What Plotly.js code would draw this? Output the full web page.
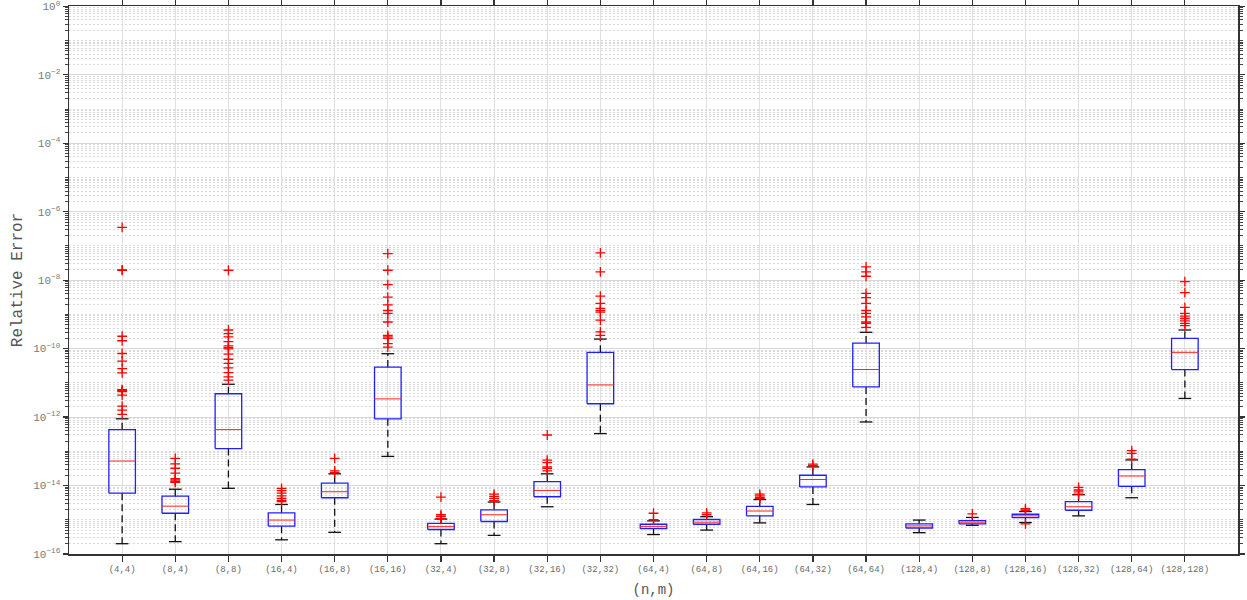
<!DOCTYPE html>
<html>
<head>
<meta charset="utf-8">
<script src="https://cdn.plot.ly/plotly-3.0.1.min.js"></script>
<style>
  html, body { margin: 0; padding: 0; background: #fff; }
  #chart { width: 1247px; height: 600px; }
</style>
</head>
<body>
<div id="chart"></div>
<script>
// Categories (n,m)
const categories = ['(4,4)', '(8,4)', '(8,8)', '(16,4)', '(16,8)', '(16,16)', '(32,4)', '(32,8)',
  '(32,16)', '(32,32)', '(64,4)', '(64,8)', '(64,16)', '(64,32)', '(64,64)', '(128,4)', '(128,8)',
  '(128,16)', '(128,32)', '(128,64)', '(128,128)'];

// Box statistics (relative error)
const upperWhisker = [8.9e-13, 7.8e-15, 9.1e-12, 2.8e-15, 2.2e-14, 7.1e-11, 1.05e-15, 3.3e-15,
  2.2e-14, 1.9e-10, 9.3e-16, 1.23e-15, 3.9e-15, 3.5e-14, 3.0e-10, 9.8e-16, 1.17e-15,
  1.74e-15, 5.4e-15, 5.6e-14, 3.5e-10];
const q3 = [4.3e-13, 4.9e-15, 4.8e-12, 1.6e-15, 1.17e-14, 2.9e-11, 7.8e-16, 1.95e-15,
  1.3e-14, 7.8e-11, 7.4e-16, 1.02e-15, 2.45e-15, 2.0e-14, 1.45e-10, 7.6e-16, 9.5e-16,
  1.45e-15, 3.4e-15, 2.9e-14, 2.0e-10];
const medians = [5.2e-14, 2.5e-15, 4.3e-13, 9.8e-16, 6.6e-15, 3.4e-12, 6.3e-16, 1.4e-15,
  7.2e-15, 8.7e-12, 6.3e-16, 8.5e-16, 1.8e-15, 1.5e-14, 2.45e-11, 6.6e-16, 8.5e-16,
  1.3e-15, 2.4e-15, 1.9e-14, 7.8e-11];
const q1 = [6.0e-15, 1.55e-15, 1.2e-13, 6.5e-16, 4.4e-15, 8.9e-13, 5.2e-16, 8.9e-16,
  4.7e-15, 2.45e-12, 5.5e-16, 7.4e-16, 1.3e-15, 9.1e-15, 7.6e-12, 5.75e-16, 7.6e-16,
  1.15e-15, 1.9e-15, 9.5e-15, 2.45e-11];
const lowerWhisker = [2.0e-16, 2.3e-16, 8.3e-15, 2.6e-16, 4.3e-16, 7.1e-14, 2.0e-16, 3.5e-16,
  2.4e-15, 3.3e-13, 3.7e-16, 5.0e-16, 8.1e-16, 2.8e-15, 7.2e-13, 4.2e-16, 6.9e-16,
  8.3e-16, 1.3e-15, 4.4e-15, 3.5e-12];

// Outliers per category
const outliers = [
  [3.5e-7, 2.0e-8, 1.95e-8, 2.3e-10, 1.7e-10, 7.2e-11, 4.3e-11, 2.6e-11, 1.95e-11, 6.3e-12, 6.0e-12, 5.6e-12, 4.4e-12, 2.1e-12, 1.6e-12, 1.2e-12],
  [6.2e-14, 4.3e-14, 3.2e-14, 2.3e-14, 1.6e-14, 1.45e-14, 1.3e-14, 1.25e-14],
  [1.95e-8, 3.5e-10, 2.75e-10, 2.2e-10, 1.6e-10, 1.2e-10, 1.07e-10, 9.8e-11, 6.9e-11, 4.9e-11, 3.7e-11, 2.75e-11, 2.0e-11, 1.5e-11, 1.2e-11],
  [8.3e-15, 7.1e-15, 6.0e-15, 5.0e-15, 4.2e-15, 3.7e-15, 3.4e-15],
  [6.2e-14, 2.7e-14, 2.4e-14],
  [6.0e-8, 1.95e-8, 7.4e-9, 3.2e-9, 1.9e-9, 1.3e-9, 1.07e-9, 6.0e-10, 2.45e-10, 2.2e-10, 2.0e-10, 1.4e-10, 1.1e-10],
  [4.6e-15, 1.4e-15, 1.25e-15, 1.1e-15],
  [5.6e-15, 4.8e-15, 4.2e-15, 3.6e-15],
  [3.0e-13, 5.5e-14, 4.7e-14, 3.5e-14, 3.2e-14, 2.7e-14],
  [6.3e-8, 1.74e-8, 3.4e-9, 2.1e-9, 1.5e-9, 1.3e-9, 1.17e-9, 6.8e-10, 3.1e-10, 2.45e-10],
  [1.55e-15, 1.0e-15],
  [1.6e-15, 1.4e-15],
  [5.6e-15, 5.0e-15, 4.5e-15, 4.2e-15],
  [4.2e-14, 3.8e-14],
  [2.45e-8, 1.74e-8, 1.3e-8, 4.1e-9, 3.1e-9, 2.1e-9, 1.3e-9, 1.07e-9, 8.5e-10, 6.0e-10, 5.5e-10, 4.2e-10],
  [],
  [1.48e-15],
  [2.1e-15, 1.9e-15, 7.6e-16],
  [8.9e-15, 7.4e-15, 6.5e-15, 5.6e-15],
  [1.05e-13, 8.7e-14, 5.9e-14],
  [9.1e-9, 4.3e-9, 1.6e-9, 1.07e-9, 8.9e-10, 7.6e-10, 6.5e-10, 5.5e-10, 4.7e-10]
];

// Y tick labels (powers of ten)
const yTickExponents = [0, -2, -4, -6, -8, -10, -12, -14, -16];

// ---- build traces ----
const pos = categories.map((c, i) => i + 1);
const boxHalf = 0.25, capHalf = 0.12;
const FONT = 'Liberation Mono, Courier New, monospace';

const wx = [], wy = [];
const cx = [], cy = [];
const bx = [], by = [];
const mx = [], my = [];
pos.forEach((p, i) => {
  wx.push(p, p, null, p, p, null);
  wy.push(q3[i], upperWhisker[i], null, q1[i], lowerWhisker[i], null);
  cx.push(p - capHalf, p + capHalf, null, p - capHalf, p + capHalf, null);
  cy.push(upperWhisker[i], upperWhisker[i], null, lowerWhisker[i], lowerWhisker[i], null);
  bx.push(p - boxHalf, p + boxHalf, p + boxHalf, p - boxHalf, p - boxHalf, null);
  by.push(q1[i], q1[i], q3[i], q3[i], q1[i], null);
  mx.push(p - boxHalf, p + boxHalf, null);
  my.push(medians[i], medians[i], null);
});
const ox = [], oy = [];
outliers.forEach((arr, i) => arr.forEach(v => { ox.push(pos[i]); oy.push(v); }));

const traces = [
  { type: 'scatter', mode: 'lines', x: wx, y: wy, hoverinfo: 'skip',
    line: { color: '#111', width: 1.3, dash: '7px,4px' } },
  { type: 'scatter', mode: 'lines', x: cx, y: cy, hoverinfo: 'skip',
    line: { color: '#111', width: 1.3 } },
  { type: 'scatter', mode: 'lines', x: bx, y: by, hoverinfo: 'skip',
    line: { color: '#2020ff', width: 1.3 } },
  { type: 'scatter', mode: 'lines', x: mx, y: my, hoverinfo: 'skip',
    line: { color: '#ff2020', width: 1 } },
  { type: 'scatter', mode: 'markers', x: ox, y: oy,
    marker: { symbol: 'cross-thin', size: 7, color: '#ff0000', line: { color: '#ff0000', width: 1.3 } } }
];

// minor log ticks (every 1..9 x 10^k except labelled decades)
const minorVals = [];
for (let k = -16; k < 0; k++) {
  for (let m = 1; m <= 9; m++) {
    if (m === 1 && k % 2 === 0) continue;
    minorVals.push(m * Math.pow(10, k));
  }
}

const layout = {
  width: 1247, height: 600,
  margin: { l: 69, r: 9, t: 6, b: 46 },
  paper_bgcolor: '#fff', plot_bgcolor: '#fff',
  showlegend: false,
  xaxis: {
    range: [0, 22], tickmode: 'array', tickvals: pos, ticktext: categories,
    showgrid: true, gridcolor: '#e0e0e0', gridwidth: 1, zeroline: false,
    ticks: 'outside', ticklen: 6, tickwidth: 1.2, tickcolor: '#333',
    showline: true, linecolor: '#333', linewidth: 1.5, mirror: 'ticks',
    tickfont: { family: FONT, size: 9, color: '#6a6a6a' },
    title: { text: '(n,m)', font: { family: FONT, size: 14, color: '#555' }, standoff: 10 },
    automargin: false
  },
  yaxis: {
    type: 'log', range: [-16, 0.01],
    tickmode: 'array',
    tickvals: yTickExponents.map(e => Math.pow(10, e)),
    ticktext: yTickExponents.map(e => '10<sup>' + (e < 0 ? '\u2212' + (-e) : e) + '</sup>'),
    ticklabeloverflow: 'allow',
    showgrid: true, gridcolor: '#d8d8d8', gridwidth: 1, zeroline: false,
    ticks: 'outside', ticklen: 5, tickwidth: 1.2, tickcolor: '#333',
    showline: true, linecolor: '#333', linewidth: 1.5, mirror: 'allticks',
    tickfont: { family: FONT, size: 11, color: '#7a7a7a' },
    minor: { tickmode: 'array', tickvals: minorVals, ticks: 'outside', ticklen: 3,
      tickcolor: '#444', tickwidth: 1, showgrid: true, gridcolor: '#d9d9d9',
      griddash: '2px,2px', gridwidth: 1 },
    title: { text: 'Relative Error', font: { family: FONT, size: 16, color: '#555' }, standoff: 6 },
    automargin: false
  }
};

Plotly.newPlot('chart', traces, layout, { displayModeBar: false, staticPlot: true });
</script>
</body>
</html>
